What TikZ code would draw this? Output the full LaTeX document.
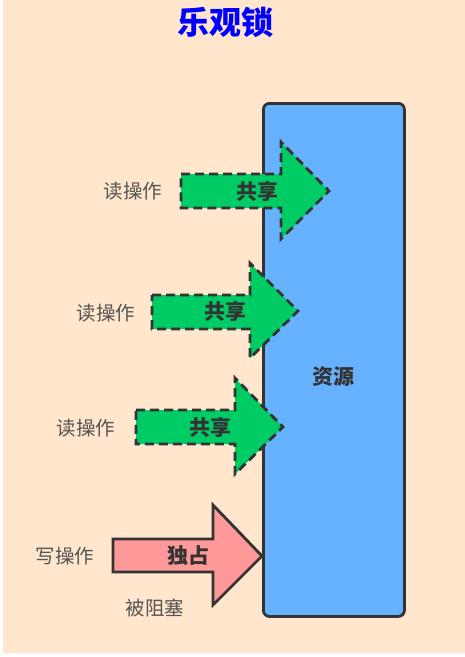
\documentclass[tikz,border=0pt]{standalone}
\usepackage{fontspec}
\newfontfamily\cjk{Noto Sans CJK SC}
\definecolor{bgpeach}{HTML}{FFE6CC}
\definecolor{resblue}{HTML}{66B2FF}
\definecolor{sharegreen}{HTML}{00CC66}
\definecolor{excpink}{HTML}{FF9999}
\definecolor{edge}{HTML}{333333}
\definecolor{lbl}{HTML}{555555}
\begin{document}
\begin{tikzpicture}[x=1pt,y=-1pt,
  oplabel/.style={font=\cjk\fontsize{19.5}{20}\selectfont, text=lbl, inner sep=0pt},
  arrowtext/.style={font=\cjk\bfseries\fontsize{21}{21}\selectfont, text=edge, inner sep=0pt},
  sharearrow/.style={fill=sharegreen, draw=edge, line width=2.8pt, dash pattern=on 9pt off 5pt, line join=miter},
  excarrow/.style={fill=excpink, draw=edge, line width=2.8pt, line join=miter}]
\useasboundingbox (0,0) rectangle (465,657);
\fill[white] (0,0) rectangle (465,657);
\fill[bgpeach] (3,0) rectangle (465,653);
% title
\node[font=\cjk\bfseries\fontsize{32}{32}\selectfont, text={rgb,255:red,0;green,0;blue,255}, inner sep=0pt] (title) at (225,22) {乐观锁};
% resource
\node[draw=edge, fill=resblue, line width=2.8pt, rounded corners=6pt, minimum width=141pt, minimum height=513pt, inner sep=0pt, anchor=north west] (res) at (262,102) {};
\node[font=\cjk\bfseries\fontsize{21}{21}\selectfont, text=edge, inner sep=0pt] (restext) at (333,377) {资源};
% arrow 1
\draw[sharearrow] (181,174) -- (281,174) -- (281,142) -- (329,191) -- (281,239) -- (281,208) -- (181,208) -- cycle;
\node[arrowtext] (s1) at (257,191) {共享};
\node[oplabel] (r1) at (133,191) {读操作};
% arrow 2
\draw[sharearrow] (152,295) -- (250,295) -- (250,263) -- (298,311) -- (250,358) -- (250,329) -- (152,329) -- cycle;
\node[arrowtext] (s2) at (225,311) {共享};
\node[oplabel] (r2) at (106,313) {读操作};
% arrow 3
\draw[sharearrow] (136,410) -- (235,410) -- (235,378) -- (283,427) -- (235,474) -- (235,444) -- (136,444) -- cycle;
\node[arrowtext] (s3) at (210,427) {共享};
\node[oplabel] (r3) at (86,428) {读操作};
% arrow 4
\draw[excarrow] (113,539) -- (213,539) -- (213,505) -- (262,556) -- (213,605) -- (213,572) -- (113,572) -- cycle;
\node[arrowtext] (x1) at (188,556) {独占};
\node[oplabel] (w1) at (65,556) {写操作};
\node[oplabel] (blk) at (155,608) {被阻塞};
\end{tikzpicture}
\end{document}
